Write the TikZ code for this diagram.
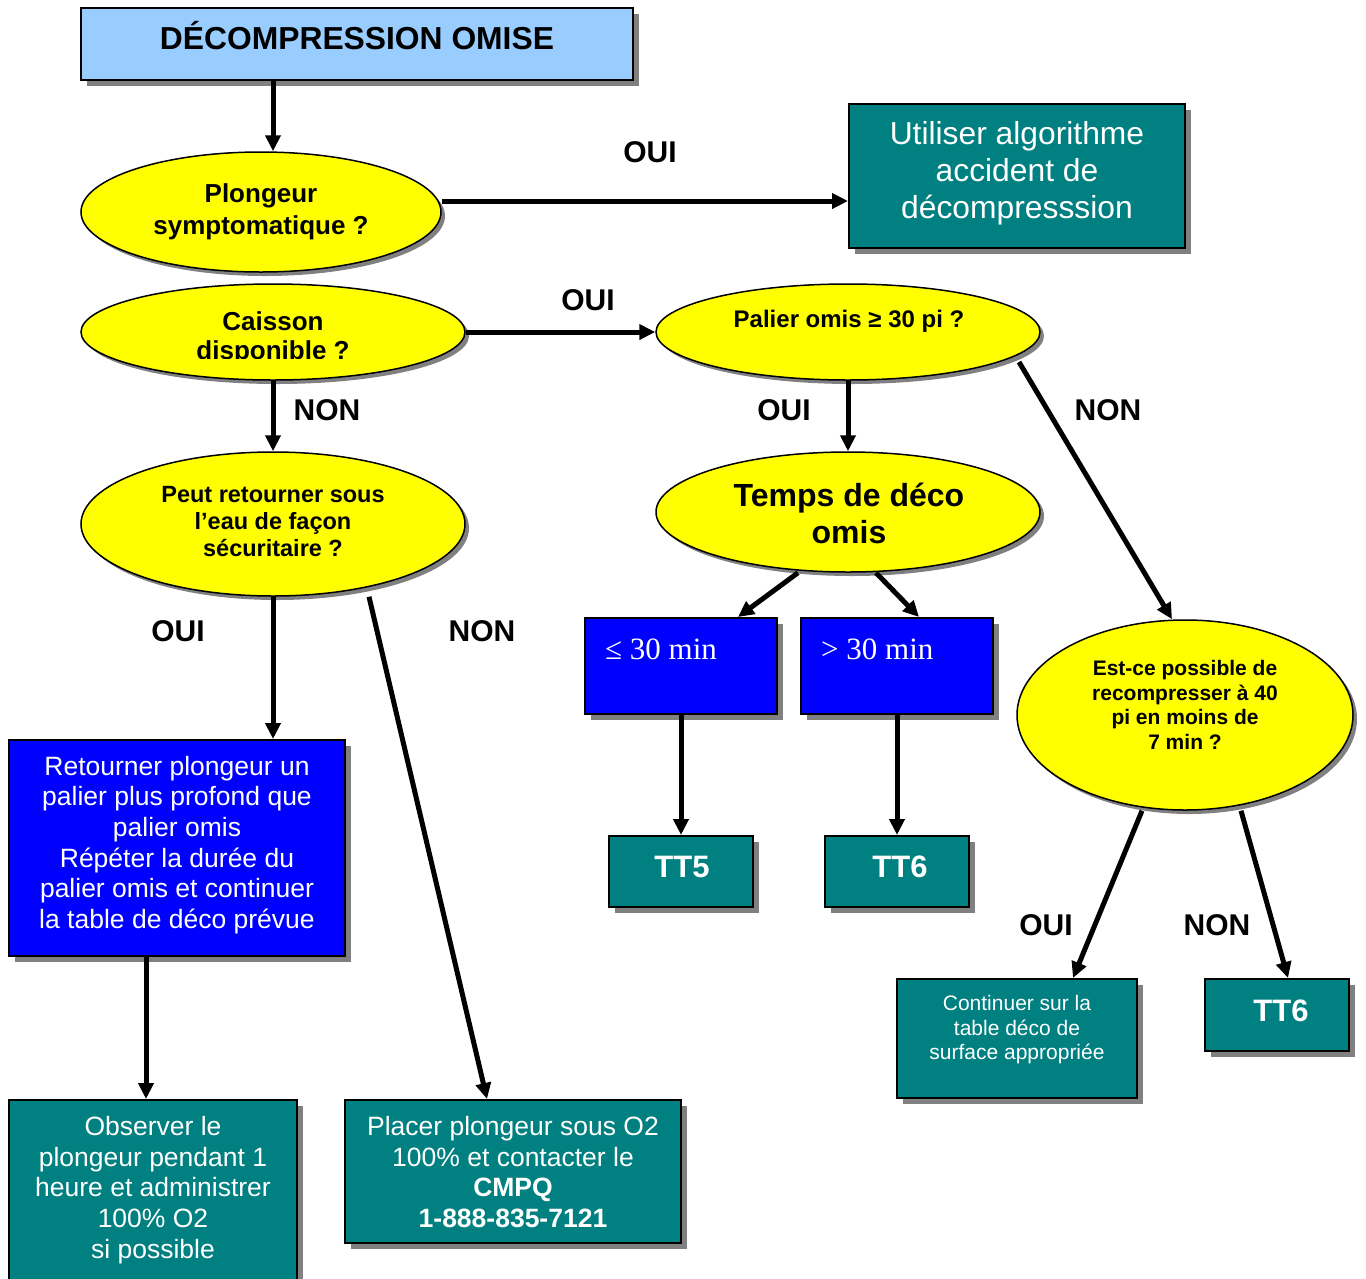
\documentclass[tikz,border=0pt]{standalone}
\usepackage{fontspec}
\setmainfont{Liberation Sans}
\newfontfamily\serifrm{Liberation Serif}
\usetikzlibrary{arrows.meta,shapes.geometric,shadows,backgrounds}
\definecolor{titleblue}{HTML}{99CCFF}
\definecolor{tealc}{HTML}{008080}
\definecolor{bluec}{HTML}{0000FF}
\definecolor{yellowc}{HTML}{FFFF00}
\definecolor{shgray}{HTML}{808080}
\newcommand\fs[2]{\fontsize{#1}{#2}\selectfont}
\begin{document}
\begin{tikzpicture}[x=1pt,y=-1pt,
  boxshape/.style={draw=black, line width=2pt, rectangle, inner sep=0pt,
    drop shadow={shadow xshift=6pt,shadow yshift=-6pt,fill=shgray,opacity=1}},
  ellshape/.style={draw=black, line width=1.5pt, ellipse, inner sep=0pt, fill=yellowc,
    drop shadow={shadow xshift=4pt,shadow yshift=-4pt,fill=shgray,opacity=1}},
  qtext/.style={align=center, inner sep=0pt},
  wtext/.style={align=center, inner sep=0pt, text=white},
  lab/.style={font=\fs{30}{36}\bfseries, inner sep=0pt, anchor=base},
  arr/.style={line width=5pt, -{Triangle[length=16pt,width=15pt]}}
]
\useasboundingbox[fill=white] (0,0) rectangle (1366,1278);

% title
\node[boxshape, fill=titleblue, minimum width=552pt, minimum height=72pt] (title) at (357,44) {};
\node[font=\fs{31.8}{36}\bfseries, anchor=base, inner sep=0pt] (titlet) at (357,49) {DÉCOMPRESSION OMISE};

% ellipse 1
\node[ellshape, minimum width=360pt, minimum height=120pt] (e1) at (261,212) {};
\node[qtext, font=\fs{26}{32}\bfseries] (e1t) at (261,212) {Plongeur\\symptomatique ?};

% box utiliser
\node[boxshape, fill=tealc, minimum width=336pt, minimum height=144pt] (b1) at (1017,176) {};
\node[wtext, font=\fs{31.8}{37}] (b1t) at (1017,173) {Utiliser algorithme\\accident de\\décompresssion};

% ellipse 2
\node[ellshape, minimum width=384pt, minimum height=96pt] (e2) at (273,332) {};
\begin{scope}
\clip (0,0) rectangle (1366,358);
\node[qtext, font=\fs{26}{29}\bfseries] (e2t) at (273,338) {Caisson\\disponible ?};
\end{scope}

% ellipse 3
\node[ellshape, minimum width=384pt, minimum height=96pt] (e3) at (848,332) {};
\node[font=\fs{24}{27}\bfseries, anchor=base, inner sep=0pt] (e3t) at (849,327) {Palier omis ≥ 30 pi ?};

% ellipse 4
\node[ellshape, minimum width=384pt, minimum height=144pt] (e4) at (273,524) {};
\node[qtext, font=\fs{23.5}{27}\bfseries] (e4t) at (273,522) {Peut retourner sous\\l’eau de façon\\sécuritaire ?};

% blue box
\node[boxshape, fill=bluec, minimum width=336pt, minimum height=216pt] (b2) at (177,848) {};
\node[wtext, font=\fs{26.5}{30.6}] (b2t) at (177,845) {Retourner plongeur un\\palier plus profond que\\palier omis\\Répéter la durée du\\palier omis et continuer\\la table de déco prévue};

% observer
\node[boxshape, fill=tealc, minimum width=288pt, minimum height=190pt] (b3) at (153,1195) {};
\node[wtext, font=\fs{26.5}{30.6}] (b3t) at (153,1190) {Observer le\\plongeur pendant 1\\heure et administrer\\100\% O2\\si possible};

% placer
\node[boxshape, fill=tealc, minimum width=336pt, minimum height=143pt] (b4) at (513,1171.5) {};
\node[wtext, font=\fs{26.5}{30.6}] (b4t) at (513,1172) {Placer plongeur sous O2\\100\% et contacter le\\\textbf{CMPQ}\\\textbf{1-888-835-7121}};

% ellipse 5
\node[ellshape, minimum width=384pt, minimum height=120pt] (e5) at (848,512) {};
\node[qtext, font=\fs{32}{37}\bfseries] (e5t) at (849,513) {Temps de déco\\omis};

% blue small boxes
\node[boxshape, fill=bluec, minimum width=192pt, minimum height=96pt] (b5) at (681,666) {};
\node[text=white, font=\serifrm\fs{31}{36}, anchor=base west, inner sep=0pt] (b5t) at (605,659) {≤ 30 min};
\node[boxshape, fill=bluec, minimum width=192pt, minimum height=96pt] (b6) at (897,666) {};
\node[text=white, font=\serifrm\fs{31}{36}, anchor=base west, inner sep=0pt] (b6t) at (821,659) {> 30 min};

% TT5 TT6
\node[boxshape, fill=tealc, minimum width=144pt, minimum height=71pt] (b7) at (681,871.5) {};
\node[text=white, font=\fs{31}{36}\bfseries, anchor=base, inner sep=0pt] (b7t) at (682,877) {TT5};
\node[boxshape, fill=tealc, minimum width=144pt, minimum height=71pt] (b8) at (897,871.5) {};
\node[text=white, font=\fs{31}{36}\bfseries, anchor=base, inner sep=0pt] (b8t) at (900,877) {TT6};

% ellipse 6
\node[ellshape, minimum width=336pt, minimum height=190pt] (e6) at (1185,715) {};
\node[qtext, font=\fs{21}{24.5}\bfseries] (e6t) at (1185,705) {Est-ce possible de\\recompresser à 40\\pi en moins de\\7 min ?};

% continuer, TT6
\node[boxshape, fill=tealc, minimum width=240pt, minimum height=119pt] (b9) at (1017,1038.5) {};
\node[wtext, font=\fs{21}{24.5}] (b9t) at (1017,1030) {Continuer sur la\\table déco de\\surface appropriée};
\node[boxshape, fill=tealc, minimum width=144pt, minimum height=72pt] (b10) at (1277,1015) {};
\node[text=white, font=\fs{31}{36}\bfseries, anchor=base, inner sep=0pt] (b10t) at (1281,1021) {TT6};

% hidden connector
\begin{scope}[on background layer]
\draw[arr] ([xshift=12pt]e1.south) -- (e2.north);
\end{scope}

% connectors
\draw[arr] (title.south -| e2.north) -- (e1.north -| e2.north);
\draw[arr] ([yshift=11pt]e1.east) -- ([yshift=11pt]e1.east -| b1.west);
\draw[arr] (e2.east) -- (e3.west);
\draw[arr] (e2.south) -- (e4.north);
\draw[arr] (e3.south) -- (e5.north);
\draw[arr] (e4.south) -- (e4.south |- b2.north);
\draw[arr] ([xshift=96pt]e4.south) -- ([xshift=-26pt]b4.north);
\draw[arr] ([xshift=-31pt]b2.south) -- ([xshift=-31pt]b2.south |- b3.north);
\draw[arr] ([xshift=-50pt]e5.south) -- ([xshift=57pt]b5.north);
\draw[arr] ([xshift=28pt]e5.south) -- ([xshift=22pt]b6.north);
\draw[arr] (b5.south) -- (b7.north);
\draw[arr] (b6.south) -- (b8.north);
\draw[arr] ([shift={(171,30)}]e3.center) -- ([xshift=-13pt]e6.north);
\draw[arr] ([xshift=-43pt]e6.south) -- ([xshift=56pt]b9.north);
\draw[arr] ([xshift=56pt]e6.south) -- ([xshift=11pt]b10.north);

% labels
\node[lab] (l1) at (650,162) {OUI};
\node[lab] (l2) at (588,310) {OUI};
\node[lab] (l3) at (327,420) {NON};
\node[lab] (l4) at (784,420) {OUI};
\node[lab] (l5) at (1108,420) {NON};
\node[lab] (l6) at (178,641) {OUI};
\node[lab] (l7) at (482,641) {NON};
\node[lab] (l8) at (1046,935) {OUI};
\node[lab] (l9) at (1217,935) {NON};
\end{tikzpicture}
\end{document}
